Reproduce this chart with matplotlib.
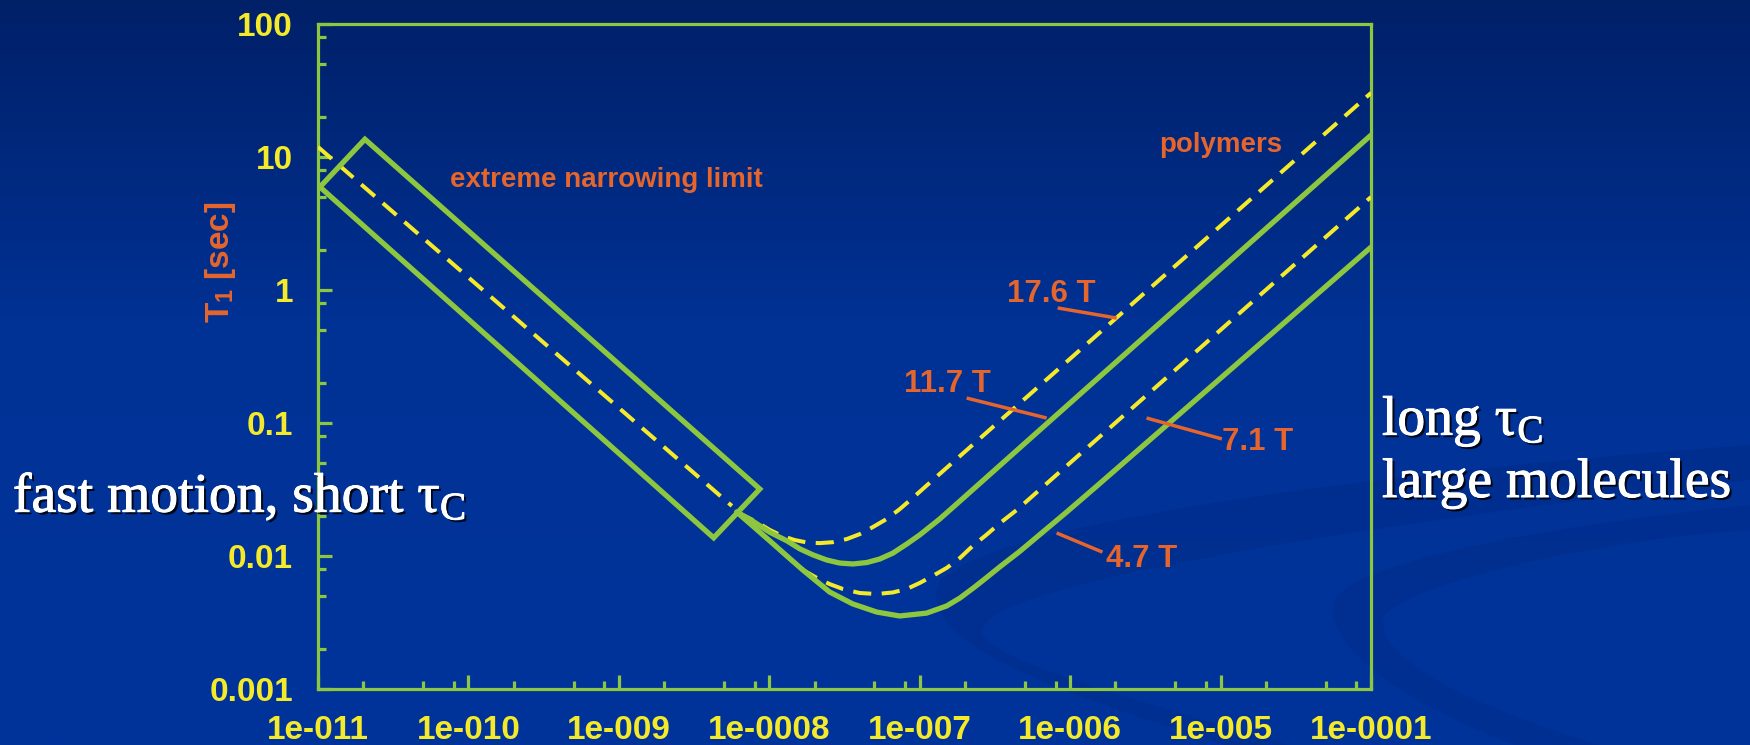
import numpy as np
import matplotlib
matplotlib.use("Agg")
import matplotlib.pyplot as plt
import matplotlib.patheffects as pe
from matplotlib.patches import Polygon, PathPatch
from matplotlib.path import Path
from matplotlib.ticker import FixedLocator, FixedFormatter, NullFormatter

# ---------------- data ----------------
x_ticks = [1e-11, 1e-10, 1e-9, 1e-8, 1e-7, 1e-6, 1e-5, 1e-4]
x_labels = ["1e-011", "1e-010", "1e-009", "1e-0008", "1e-007", "1e-006", "1e-005", "1e-0001"]
y_ticks = [1e-3, 1e-2, 1e-1, 1, 10, 100]
y_labels = ["0.001", "0.01", "0.1", "1", "10", "100"]
minor_mult = [2, 5, 8]

# extreme narrowing (common) line, dashed
tau_en = [1.0e-11, 5.64e-9]
T1_en = [11.9, 0.0238]

# box around extreme narrowing region (corners)
box_tau = [1.03e-11, 2.05e-11, 8.65e-9, 4.27e-9]
box_T1 = [5.95, 13.6, 0.0319, 0.0137]

# 17.6 T (dashed)
tau_176 = [6.08e-9, 8.26e-9, 1.007e-8, 1.23e-8, 1.47e-8, 1.80e-8, 2.17e-8, 2.64e-8,
           3.27e-8, 3.99e-8, 4.88e-8, 6.04e-8, 7.36e-8, 8.98e-8, 1.22e-7, 1e-4]
T1_176 = [0.0214, 0.0180, 0.0157, 0.0141, 0.0132, 0.0126, 0.0125, 0.0127,
          0.0134, 0.0146, 0.0165, 0.0190, 0.0225, 0.0273, 0.0372, 30.3]

# 11.7 T (solid)
tau_117 = [6.08e-9, 7.76e-9, 1.007e-8, 1.31e-8, 1.60e-8, 1.95e-8, 2.41e-8, 2.94e-8,
           3.59e-8, 4.45e-8, 5.42e-8, 6.62e-8, 8.20e-8, 1.00e-7, 1.36e-7, 1.66e-7, 1e-4]
T1_117 = [0.0214, 0.0183, 0.0151, 0.0130, 0.0113, 0.0102, 0.00933, 0.00885,
          0.00871, 0.00893, 0.00949, 0.0105, 0.0123, 0.0144, 0.0190, 0.0232, 14.6]

# 7.1 T (dashed)
tau_71 = [6.08e-9, 1.007e-8, 1.37e-8, 1.72e-8, 2.07e-8, 2.52e-8, 3.08e-8, 3.99e-8,
          5.18e-8, 6.62e-8, 8.20e-8, 1.00e-7, 1.22e-7, 1.51e-7, 1.85e-7, 2.25e-7,
          2.79e-7, 3.40e-7, 4.42e-7, 1e-4]
T1_71 = [0.0214, 0.0130, 0.00949, 0.00771, 0.00684, 0.00615, 0.00565, 0.00527,
         0.00518, 0.00532, 0.00565, 0.00627, 0.00708, 0.00813, 0.00966, 0.0119,
         0.0145, 0.0176, 0.0222, 5.00]

# 4.7 T (solid)
tau_47 = [6.08e-9, 1.007e-8, 1.67e-8, 2.52e-8, 3.59e-8, 5.18e-8, 7.36e-8, 1.11e-7,
          1.51e-7, 1.85e-7, 2.32e-7, 2.79e-7, 3.40e-7, 4.61e-7, 9.48e-7, 1.57e-6, 1e-4]
T1_47 = [0.0214, 0.0130, 0.00785, 0.00536, 0.00436, 0.00379, 0.00354, 0.00372,
         0.00421, 0.00483, 0.00585, 0.00690, 0.00827, 0.0108, 0.0214, 0.0350, 2.10]

# field labels: text, text position, leader line start/end
field_labels = ["17.6 T", "11.7 T", "7.1 T", "4.7 T"]
label_tau = [7.48e-7, 1.52e-7, 1.75e-5, 3.00e-6]
label_T1 = [0.813, 0.171, 0.0627, 0.00826]
lead_tau0 = [8.26e-7, 2.05e-7, 3.22e-6, 8.13e-7]
lead_T10 = [0.733, 0.154, 0.109, 0.0149]
lead_tau1 = [2.04e-6, 6.98e-7, 1.02e-5, 1.64e-6]
lead_T11 = [0.615, 0.109, 0.0759, 0.0107]

# ---------------- styling ----------------
GREEN = "#8dc63f"
YELLOW = "#f4ea2a"
ORANGE = "#e5652d"
W, H = 1750, 745

plt.rcParams["mathtext.fontset"] = "custom"
plt.rcParams["mathtext.rm"] = "Liberation Serif"
plt.rcParams["mathtext.it"] = "Liberation Serif:italic"
plt.rcParams["mathtext.bf"] = "Liberation Sans:bold"

fig = plt.figure(figsize=(W / 100, H / 100), dpi=100)

# background gradient + subtle swooshes
bg = fig.add_axes([0, 0, 1, 1], zorder=-10)
bg.set_xlim(0, W)
bg.set_ylim(H, 0)
bg.axis("off")
n = 200
top = np.array([0, 32, 104]) / 255
mid = np.array([0, 50, 150]) / 255
bot = np.array([0, 52, 155]) / 255
grad = np.zeros((n, 1, 3))
for i, r in enumerate(np.linspace(0, 1, n)):
    if r < 0.45:
        t = r / 0.45
        grad[i, 0] = top * (1 - t) + mid * t
    else:
        t = (r - 0.45) / 0.55
        grad[i, 0] = mid * (1 - t) + bot * t
bg.imshow(grad, aspect="auto", extent=[0, W, H, 0], interpolation="bilinear")

C4, L2 = Path.CURVE4, Path.LINETO
sw_codes = [Path.MOVETO, C4, C4, C4, C4, C4, C4, L2, C4, C4, C4, C4, C4, C4, Path.CLOSEPOLY]
sw1 = [(1750, 445), (1400, 470), (1000, 520), (940, 580),
       (910, 640), (1050, 690), (1225, 745),
       (1290, 745),
       (1100, 690), (960, 650), (985, 625),
       (1010, 580), (1400, 520), (1750, 480), (1750, 445)]
sw2 = [(1750, 505), (1600, 520), (1360, 555), (1334, 600),
       (1320, 650), (1420, 710), (1515, 745),
       (1600, 745),
       (1450, 700), (1370, 650), (1385, 615),
       (1420, 580), (1600, 540), (1750, 530), (1750, 505)]
for sw in (sw1, sw2):
    bg.add_patch(PathPatch(Path(sw, sw_codes), facecolor=(0, 0.12, 0.42),
                           edgecolor="none", alpha=0.16))

# main axes
ax = fig.add_axes([318 / W, 1 - 689 / H, (1371 - 318) / W, (689 - 24) / H])
ax.set_facecolor("none")
ax.set_xscale("log")
ax.set_yscale("log")
ax.set_xlim(1e-11, 1e-4)
ax.set_ylim(1e-3, 100)

for s in ax.spines.values():
    s.set_color(GREEN)
    s.set_linewidth(2.3)

ax.xaxis.set_major_locator(FixedLocator(x_ticks))
ax.xaxis.set_major_formatter(FixedFormatter(x_labels))
ax.yaxis.set_major_locator(FixedLocator(y_ticks))
ax.yaxis.set_major_formatter(FixedFormatter(y_labels))
xminor = [m * 10.0 ** k for k in range(-12, -4) for m in minor_mult]
yminor = [m * 10.0 ** k for k in range(-4, 2) for m in minor_mult]
ax.xaxis.set_minor_locator(FixedLocator([v for v in xminor if 1e-11 < v < 1e-4]))
ax.yaxis.set_minor_locator(FixedLocator([v for v in yminor if 1e-3 < v < 100]))
ax.xaxis.set_minor_formatter(NullFormatter())
ax.yaxis.set_minor_formatter(NullFormatter())
ax.tick_params(which="both", direction="in", color=GREEN, width=2.3,
               top=False, right=False)
ax.tick_params(which="major", length=10)
ax.tick_params(which="minor", length=5.5)
ax.tick_params(axis="x", pad=19)
ax.tick_params(axis="y", pad=18)
for lab in ax.get_xticklabels() + ax.get_yticklabels():
    lab.set_fontfamily("Liberation Sans")
    lab.set_fontweight("bold")
    lab.set_fontsize(24)
    lab.set_color(YELLOW)

# curves
dash = dict(color=YELLOW, lw=2.9, dashes=(4.5, 2.6), dash_capstyle="butt", zorder=3)
solid = dict(color=GREEN, lw=3.8, solid_joinstyle="round", solid_capstyle="round", zorder=4)
ax.plot(tau_en, T1_en, **dash)
ax.plot(tau_176, T1_176, **dash)
ax.plot(tau_71, T1_71, **dash)
ax.plot(tau_117, T1_117, **solid)
ax.plot(tau_47, T1_47, **solid)
ax.add_patch(Polygon(list(zip(box_tau, box_T1)), closed=True, fill=False,
                     edgecolor=GREEN, lw=3.8, joinstyle="miter", zorder=5))

# labels
for txt, tx, ty, a0, b0, a1, b1 in zip(field_labels, label_tau, label_T1,
                                        lead_tau0, lead_T10, lead_tau1, lead_T11):
    ax.plot([a0, a1], [b0, b1], color=ORANGE, lw=2.5, solid_capstyle="butt", zorder=6)
    ax.text(tx, ty, txt, color=ORANGE, fontsize=22.5, fontweight="bold",
            fontfamily="Liberation Sans", ha="center", va="baseline", zorder=7)

ax.text(8.26e-10, 5.95, "extreme narrowing limit", color=ORANGE, fontsize=20,
        fontweight="bold", fontfamily="Liberation Sans", ha="center", va="baseline")
ax.text(1e-5, 10.9, "polymers", color=ORANGE, fontsize=20,
        fontweight="bold", fontfamily="Liberation Sans", ha="center", va="baseline")

fig.text(220 / W, 1 - 262 / H, r"T$_\mathbf{1}$ [sec]", color=ORANGE, fontsize=24,
         fontweight="bold", fontfamily="Liberation Sans", rotation=90,
         ha="center", va="center")

shadow = [pe.withSimplePatchShadow(offset=(1.8, -1.8), shadow_rgbFace="black", alpha=0.85),
          pe.withStroke(linewidth=0.7, foreground="white")]
serif = dict(color="white", fontsize=40, fontfamily="Liberation Serif",
             ha="left", va="baseline", path_effects=shadow)
fig.text(13 / W, 1 - 512 / H, r"fast motion, short $\mathrm{\tau_C}$", **serif)
fig.text(1382 / W, 1 - 435 / H, r"long $\mathrm{\tau_C}$", **serif)
fig.text(1382 / W, 1 - 497 / H, "large molecules", **serif)

fig.savefig("out.png", dpi=100)
